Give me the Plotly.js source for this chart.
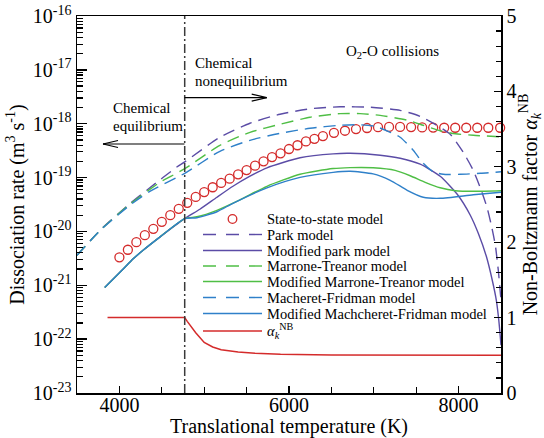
<!DOCTYPE html>
<html>
<head>
<meta charset="utf-8">
<script src="https://cdn.plot.ly/plotly-3.0.1.min.js"></script>
<style>html,body{margin:0;padding:0;background:#fff;}#chart{width:544px;height:438px;}</style>
</head>
<body>
<div id="chart"></div>
<script>
// ---------------- DATA ----------------
const T_sts = [4000,4100,4200,4300,4400,4500,4600,4700,4800,4900,5000,5100,5200,5300,5400,5500,5600,5700,5800,5900,6000,6100,6200,6300,6400,
               6530,6660,6790,6920,7050,7180,7310,7440,7570,7700,7830,7960,8090,8220,8350,8490];
const k_sts = [3.31e-21,4.57e-21,6.31e-21,8.51e-21,1.12e-20,1.51e-20,2.00e-20,2.63e-20,3.39e-20,4.37e-20,5.37e-20,6.61e-20,7.94e-20,9.55e-20,1.15e-19,1.38e-19,1.66e-19,2.00e-19,2.40e-19,2.82e-19,3.39e-19,3.98e-19,4.68e-19,5.25e-19,5.89e-19,
               6.76e-19,7.41e-19,7.94e-19,8.32e-19,8.61e-19,8.71e-19,8.71e-19,8.67e-19,8.55e-19,8.47e-19,8.41e-19,8.41e-19,8.41e-19,8.41e-19,8.41e-19,8.41e-19];

const T_park = [3500,3792,4122,4359,4677,4771,5185,5540,5894,6248,6602,6957,7311,7547,7724,7901,8055,8173,8267,8338,8386,8433,8468,8500];
const k_park = [3.61e-21,1.13e-20,3.26e-20,6.46e-20,1.57e-19,1.96e-19,5.60e-19,1.02e-18,1.50e-18,1.89e-18,2.06e-18,2.02e-18,1.77e-18,1.37e-18,9.75e-19,6.37e-19,2.94e-19,1.36e-19,5.81e-20,2.69e-20,1.30e-20,5.53e-21,1.90e-21,5.26e-22];

const T_mpark = [3827,4024,4166,4279,4480,4770,4949,5150,5339,5540,5740,6130,6520,6721,7075,7311,7547,7783,7984,8138,8232,8327,8397,8445,8474,8500];
const k_mpark = [9.06e-22,1.86e-21,3.13e-21,4.47e-21,7.94e-21,1.73e-20,2.58e-20,4.31e-20,6.89e-20,1.06e-19,1.52e-19,2.33e-19,2.76e-19,2.82e-19,2.59e-19,2.28e-19,1.77e-19,1.06e-19,4.90e-20,2.00e-20,9.24e-21,3.45e-21,1.24e-21,5.26e-22,2.24e-22,7.69e-23];

const T_mt = [3500,3792,4122,4359,4477,4771,5185,5540,5894,6248,6602,6839,7075,7394,7583,7783,7961,8173,8500];
const k_mt = [3.61e-21,1.12e-20,3.19e-20,6.05e-20,8.17e-20,1.46e-19,3.97e-19,6.93e-19,9.75e-19,1.32e-18,1.54e-18,1.54e-18,1.43e-18,1.16e-18,9.35e-19,7.39e-19,6.50e-19,6.10e-19,5.71e-19];

const T_mmt = [3827,4024,4166,4279,4480,4770,4914,5150,5421,5740,6130,6520,6721,6992,7252,7429,7606,7783,7961,8197,8500];
const k_mmt = [9.06e-22,1.86e-21,3.13e-21,4.47e-21,7.94e-21,1.73e-20,1.87e-20,2.47e-20,3.86e-20,6.89e-20,1.15e-19,1.47e-19,1.53e-19,1.52e-19,1.36e-19,1.08e-19,8.17e-20,6.46e-20,5.69e-20,5.56e-20,5.69e-20];

const T_mf = [3500,3792,4122,4359,4771,5185,5540,5894,6248,6602,6839,7017,7194,7311,7465,7583,7701,7819,8020,8256,8500];
const k_mf = [3.61e-21,1.11e-20,3.05e-20,5.56e-20,1.20e-19,3.08e-19,4.92e-19,6.64e-19,8.22e-19,9.35e-19,9.55e-19,8.95e-19,6.93e-19,5.60e-19,3.21e-19,1.84e-19,1.28e-19,1.15e-19,1.15e-19,1.20e-19,1.28e-19];

const T_mmf = [3827,4024,4166,4279,4480,4770,4914,5150,5339,5740,6130,6520,6721,6992,7194,7394,7583,7783,8173,8500];
const k_mmf = [9.06e-22,1.86e-21,3.13e-21,4.47e-21,7.94e-21,1.73e-20,1.79e-20,2.32e-20,3.33e-20,6.46e-20,1.01e-19,1.25e-19,1.31e-19,1.17e-19,8.91e-20,5.81e-20,4.31e-20,4.12e-20,4.79e-20,5.33e-20];

const T_alpha = [3860,4770,4800,4850,4900,5000,5100,5200,5400,5600,5900,6500,7500,8500];
const alpha   = [1.0,1.0,0.95,0.87,0.80,0.67,0.61,0.575,0.543,0.527,0.513,0.503,0.5,0.5];

const T_interface = 4770;

const seriesNames = ['State-to-state model','Park model','Modified park model','Marrone-Treanor model',
                     'Modified Marrone-Treanor model','Macheret-Fridman model','Modified Machcheret-Fridman model',
                     '<i>α</i><sub><i>k</i></sub><sup>NB</sup>'];
const yTickVals = [1e-23,1e-22,1e-21,1e-20,1e-19,1e-18,1e-17,1e-16];
const yTickText = ['10<sup>-23</sup>','10<sup>-22</sup>','10<sup>-21</sup>','10<sup>-20</sup>','10<sup>-19</sup>','10<sup>-18</sup>','10<sup>-17</sup>','10<sup>-16</sup>'];
const xTickVals = [4000,6000,8000];

// ---------------- STYLE ----------------
const FONT = 'Liberation Serif, Times New Roman, serif';
const PURPLE = '#5b4ca6', GREEN = '#4fbe45', BLUE = '#2f80c9', RED = '#d42b2b';
const DASH = '12px,7px';

const ML = 77, MR = 43, MT = 16, MB = 45, W = 544, H = 438;
const L = ML, R = W - MR, TOP = MT, BOT = H - MB;
const px = x => (x - L) / (R - L);
const py = y => (BOT - y) / (BOT - TOP);

function lineTrace(x, y, name, color, dash, yaxis) {
  return {x: x, y: y, name: name, mode: 'lines', yaxis: yaxis || 'y', showlegend: false,
          line: {color: color, width: 1.4, dash: dash || 'solid', shape: 'spline', smoothing: 0.6}};
}

const traces = [
  {x: T_sts, y: k_sts, name: seriesNames[0], mode: 'markers', showlegend: false, cliponaxis: false,
   marker: {symbol: 'circle-open', size: 9, color: RED, line: {width: 1.3, color: RED}}},
  lineTrace(T_park, k_park, seriesNames[1], PURPLE, DASH),
  lineTrace(T_mpark, k_mpark, seriesNames[2], PURPLE),
  lineTrace(T_mt, k_mt, seriesNames[3], GREEN, DASH),
  lineTrace(T_mmt, k_mmt, seriesNames[4], GREEN),
  lineTrace(T_mf, k_mf, seriesNames[5], BLUE, DASH),
  lineTrace(T_mmf, k_mmf, seriesNames[6], BLUE),
  {x: T_alpha, y: alpha, name: 'alpha', mode: 'lines', yaxis: 'y2', showlegend: false,
   line: {color: RED, width: 1.5}}
];

// minor ticks for the log axis
const yMinor = [];
for (let e = -23; e < -16; e++) for (let m = 2; m <= 9; m++) yMinor.push(m * Math.pow(10, e));

// ---------------- manual legend ----------------
const shapes = [];
const annotations = [];
const legY = [219, 234.5, 250.5, 266, 281.5, 297.5, 313.5, 331];
const legStyles = [null, [PURPLE, '13px,10px'], [PURPLE, 'solid'], [GREEN, '13px,10px'], [GREEN, 'solid'],
                   [BLUE, '13px,10px'], [BLUE, 'solid'], [RED, 'solid']];
const LX0 = 203, LX1 = 262, LTX = 265;
legY.forEach((yy, i) => {
  if (i === 0) {
    shapes.push({type: 'circle', xref: 'paper', yref: 'paper',
      x0: px(232.5 - 4.3), x1: px(232.5 + 4.3), y0: py(yy + 4.3), y1: py(yy - 4.3),
      line: {color: RED, width: 1.3}, fillcolor: 'rgba(0,0,0,0)'});
  } else {
    shapes.push({type: 'line', xref: 'paper', yref: 'paper', x0: px(LX0), x1: px(LX1), y0: py(yy), y1: py(yy),
      line: {color: legStyles[i][0], width: 1.4, dash: legStyles[i][1]}});
  }
  annotations.push({xref: 'paper', yref: 'paper', x: px(LTX), y: py(yy), xanchor: 'left', yanchor: 'middle',
    text: seriesNames[i], showarrow: false, font: {family: FONT, size: 14.5, color: '#000'}});
});

// interface line
shapes.push({type: 'line', xref: 'x', yref: 'paper', x0: T_interface, x1: T_interface, y0: 0, y1: 1,
  line: {color: '#3a3a3a', width: 1.5, dash: '9px,3px,2px,3px'}});

// arrows
function arrow(xTail, xTip, yy) {
  const d = xTip > xTail ? -15 : 15;
  shapes.push({type: 'line', xref: 'paper', yref: 'paper', x0: px(xTail), x1: px(xTip), y0: py(yy), y1: py(yy), line: {color: '#000', width: 1.2}});
  shapes.push({type: 'line', xref: 'paper', yref: 'paper', x0: px(xTip), x1: px(xTip + d), y0: py(yy), y1: py(yy - 3.5), line: {color: '#000', width: 1.2}});
  shapes.push({type: 'line', xref: 'paper', yref: 'paper', x0: px(xTip), x1: px(xTip + d), y0: py(yy), y1: py(yy + 3.5), line: {color: '#000', width: 1.2}});
}
arrow(184.5, 103, 144);
arrow(184.5, 266.7, 97.7);

function label(text, x, y, anchor, size) {
  annotations.push({xref: 'paper', yref: 'paper', x: px(x), y: py(y), xanchor: anchor, yanchor: 'middle',
    text: text, showarrow: false, font: {family: FONT, size: size, color: '#000'}});
}
label('Chemical', 111, 108, 'left', 15);
label('equilibrium', 111, 126, 'left', 15);
label('Chemical', 192.7, 63, 'left', 15);
label('nonequilibrium', 192.7, 81, 'left', 15);
label('O<sub>2</sub>-O collisions', 392, 52, 'center', 15);

const axCommon = {showline: true, linecolor: '#000', linewidth: 1.5, ticks: 'inside', tickcolor: '#000',
  tickwidth: 1.3, showgrid: false, zeroline: false, tickfont: {family: FONT, size: 20, color: '#000'}};

const layout = {
  width: W, height: H, margin: {l: ML, r: MR, t: MT, b: MB, pad: 0},
  paper_bgcolor: '#fff', plot_bgcolor: '#fff', showlegend: false,
  font: {family: FONT, color: '#000'},
  xaxis: Object.assign({}, axCommon, {range: [3500, 8500], tickmode: 'array', tickvals: xTickVals, ticklen: 7,
    mirror: true, ticklabelstandoff: -7,
    minor: {dtick: 500, tick0: 0, ticks: 'inside', ticklen: 6, tickwidth: 1.3, tickcolor: '#000'},
    title: {text: 'Translational temperature (K)', font: {family: FONT, size: 20, color: '#000'}, standoff: 9}}),
  yaxis: Object.assign({}, axCommon, {type: 'log', range: [-23, -16], tickmode: 'array', tickvals: yTickVals,
    ticktext: yTickText, ticklen: 10,
    minor: {tickmode: 'array', tickvals: yMinor, ticks: 'inside', ticklen: 6, tickwidth: 1.2, tickcolor: '#000'},
    title: {text: 'Dissociation rate (m<sup>3</sup> s<sup>-1</sup>)', font: {family: FONT, size: 20, color: '#000'}, standoff: 3}}),
  yaxis2: Object.assign({}, axCommon, {overlaying: 'y', side: 'right', range: [0, 5], tickmode: 'array',
    tickvals: [0, 1, 2, 3, 4, 5], ticklen: 7,
    minor: {dtick: 0.2, tick0: 0, ticks: 'inside', ticklen: 5, tickwidth: 1.2, tickcolor: '#000'},
    title: {text: 'Non-Boltzmann factor <i>α</i><sub><i>k</i></sub><sup>NB</sup>', font: {family: FONT, size: 20, color: '#000'}, standoff: 4}}),
  shapes: shapes,
  annotations: annotations
};

Plotly.newPlot('chart', traces, layout, {staticPlot: true, displayModeBar: false});
</script>
</body>
</html>
